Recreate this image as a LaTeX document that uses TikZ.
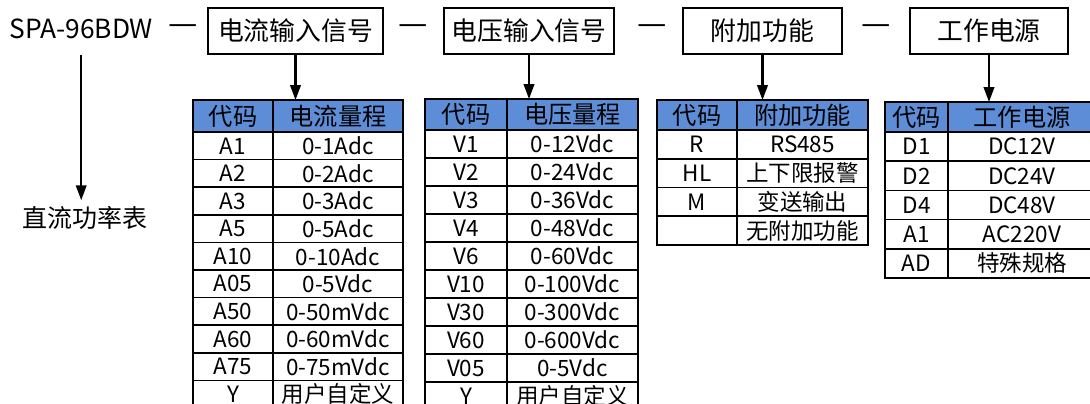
\documentclass[tikz,border=0pt]{standalone}
\usepackage{fontspec}
\newfontfamily\cjk{Noto Sans CJK SC}
\usetikzlibrary{arrows.meta}

\definecolor{hdrblue}{RGB}{92,141,214}

\tikzset{
  box/.style={draw, line width=1.2pt, minimum height=0.92cm, inner sep=0pt, font=\cjk\fontsize{14.7}{16}\selectfont},
  dashmark/.style={inner sep=0pt, font=\cjk\fontsize{15}{17}\selectfont},
  arr/.style={line width=1.2pt, -{Triangle[length=8.5pt,width=6pt]}},
  cell/.style={inner sep=0pt, font=\cjk\fontsize{12.8}{14}\selectfont},
  hcell/.style={inner sep=0pt, font=\cjk\fontsize{13.8}{15}\selectfont},
  rim/.style={line width=1.3pt},
  rule/.style={line width=0.9pt},
}

\begin{document}
\begin{tikzpicture}[x=0.02cm,y=-0.02cm]

\useasboundingbox (0,0) rectangle (1090,403);
\clip (0,0) rectangle (1090,403);

% Model line
\node[anchor=west, inner sep=0pt, font=\cjk\fontsize{15}{17}\selectfont] (model) at (9,29) {SPA-96BDW};
\node[dashmark] (dash1) at (183,30) {\scalebox{1.25}[1.2]{—}};
\node[box, minimum width=3.5cm] (curr) at (295.5,31) {电流输入信号};
\node[dashmark] (dash2) at (413,30) {\scalebox{1.25}[1.2]{—}};
\node[box, minimum width=3.4cm] (volt) at (529,31) {电压输入信号};
\node[dashmark] (dash3) at (652,30) {\scalebox{1.25}[1.2]{—}};
\node[box, minimum width=3.18cm] (extra) at (762.5,31) {附加功能};
\node[dashmark] (dash4) at (876,30) {\scalebox{1.25}[1.2]{—}};
\node[box, minimum width=3.16cm] (supply) at (989,31) {工作电源};

% Product name
\node[font=\cjk\fontsize{14.2}{16}\selectfont] (meter) at (85,218) {直流功率表};
\draw[arr, shorten <=9pt] (model.south) -- (model.south |- meter.north);

% Current table
\coordinate (tab1) at (298,100);
\fill[hdrblue] (193,100) rectangle (403,132);
\foreach \k in {0,...,9}
  \draw[rule] (193,{132+27.6*\k}) -- (403,{132+27.6*\k});
\draw[rule] (273,100) -- (273,420);
\draw[rim] (193,420) -- (193,100) -- (403,100) -- (403,420);
\node[hcell] (t1h1) at (233,116) {代码};
\node[hcell] (t1h2) at (338,116) {电流量程};
\foreach \c/\v [count=\i] in {A1/0-1Adc, A2/0-2Adc, A3/0-3Adc, A5/0-5Adc, A10/0-10Adc,
    A05/0-5Vdc, A50/0-50mVdc, A60/0-60mVdc, A75/0-75mVdc, Y/用户自定义} {
  \node[cell] (t1c\i) at (233,{132+27.6*(\i-0.5)}) {\c};
  \node[cell] (t1v\i) at (338,{132+27.6*(\i-0.5)}) {\v};
}
\draw[arr] (curr.south) -- (curr.south |- tab1);

% Voltage table
\coordinate (tab2) at (531,99);
\fill[hdrblue] (425,99) rectangle (638,130);
\foreach \k in {0,...,9}
  \draw[rule] (425,{130+28*\k}) -- (638,{130+28*\k});
\draw[rule] (507,99) -- (507,420);
\draw[rim] (425,420) -- (425,99) -- (638,99) -- (638,420);
\node[hcell] (t2h1) at (466,114.5) {代码};
\node[hcell] (t2h2) at (572.5,114.5) {电压量程};
\foreach \c/\v [count=\i] in {V1/0-12Vdc, V2/0-24Vdc, V3/0-36Vdc, V4/0-48Vdc, V6/0-60Vdc,
    V10/0-100Vdc, V30/0-300Vdc, V60/0-600Vdc, V05/0-5Vdc, Y/用户自定义} {
  \node[cell] (t2c\i) at (466,{130+28*(\i-0.5)}) {\c};
  \node[cell] (t2v\i) at (572.5,{130+28*(\i-0.5)}) {\v};
}
\draw[arr] (volt.south) -- (volt.south |- tab2);

% Extra function table
\coordinate (tab3) at (762,100);
\fill[hdrblue] (657,100) rectangle (868,130);
\foreach \k in {0,...,3}
  \draw[rule] (657,{130+28.75*\k}) -- (868,{130+28.75*\k});
\draw[rule] (737,100) -- (737,245);
\draw[rim] (657,100) rectangle (868,245);
\node[hcell] (t3h1) at (697,115) {代码};
\node[hcell] (t3h2) at (802.5,115) {附加功能};
\foreach \c/\v [count=\i] in {R/RS485, HL/上下限报警, M/变送输出, /无附加功能} {
  \node[cell] (t3c\i) at (697,{130+28.75*(\i-0.5)}) {\c};
  \node[cell] (t3v\i) at (802.5,{130+28.75*(\i-0.5)}) {\v};
}
\draw[arr] (extra.south) -- (extra.south |- tab3);

% Supply table
\coordinate (tab4) at (989,102);
\fill[hdrblue] (885,102) rectangle (1096,132);
\foreach \k in {0,...,4}
  \draw[rule] (885,{132+29.2*\k}) -- (1096,{132+29.2*\k});
\draw[rule] (948,102) -- (948,278);
\draw[rim] (885,102) rectangle (1096,278);
\node[hcell] (t4h1) at (916.5,117) {代码};
\node[hcell] (t4h2) at (1022,117) {工作电源};
\foreach \c/\v [count=\i] in {D1/DC12V, D2/DC24V, D4/DC48V, A1/AC220V, AD/特殊规格} {
  \node[cell] (t4c\i) at (916.5,{132+29.2*(\i-0.5)}) {\c};
  \node[cell] (t4v\i) at (1022,{132+29.2*(\i-0.5)}) {\v};
}
\draw[arr] (supply.south) -- (supply.south |- tab4);

\end{tikzpicture}
\end{document}
